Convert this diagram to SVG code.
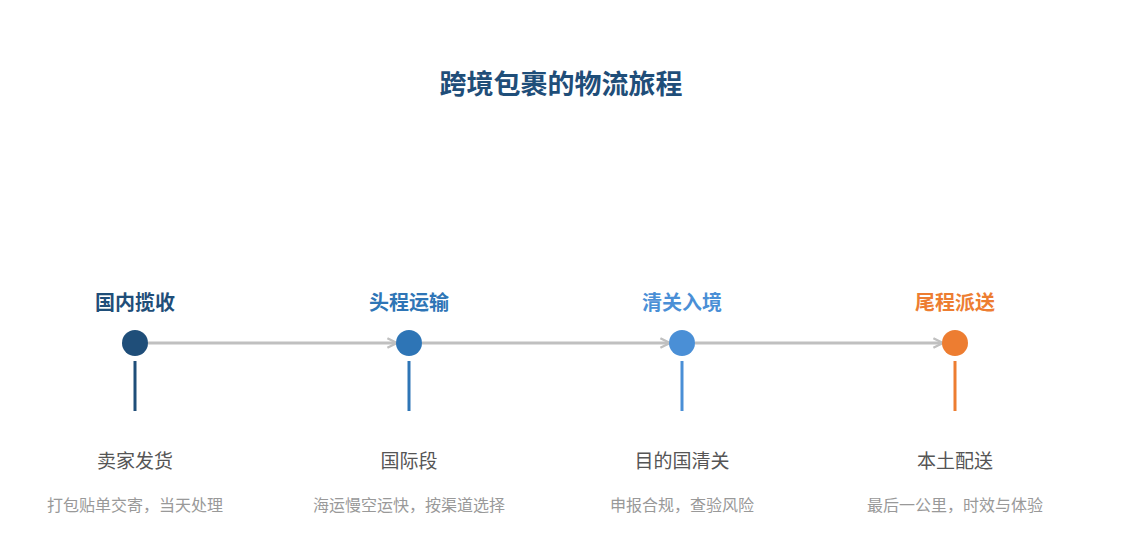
<svg xmlns="http://www.w3.org/2000/svg" width="1123" height="555" viewBox="0 0 1123 555">
<defs>
<marker id="ah" viewBox="0 0 10 10" refX="9" refY="5" markerWidth="4" markerHeight="4" orient="auto" markerUnits="strokeWidth">
<path d="M1,1 L9,5 L1,9" fill="none" stroke="#c0c0c0" stroke-width="2"/>
</marker>
<style>
text{font-family:"Noto Sans CJK SC","Liberation Sans",sans-serif;text-anchor:middle}
.t{font-size:20px;font-weight:bold}
.s{font-size:19px;fill:#555}
.d{font-size:16px;fill:#999}
.c{stroke:#c0c0c0;stroke-width:3;fill:none}
</style>
</defs>
<rect width="1123" height="555" fill="#fff"/>
<text x="561" y="94" style="font-size:27px;font-weight:bold;fill:#1f4e79">跨境包裹的物流旅程</text>
<g id="connectors">
<line class="c" x1="148" y1="343" x2="397" y2="343" marker-end="url(#ah)"/>
<line class="c" x1="422" y1="343" x2="670" y2="343" marker-end="url(#ah)"/>
<line class="c" x1="695" y1="343" x2="943" y2="343" marker-end="url(#ah)"/>
</g>
<g id="n1"><text class="t" x="135" y="310" fill="#1f4e79">国内揽收</text><circle cx="135" cy="343" r="13" fill="#1f4e79"/><line x1="135" y1="361" x2="135" y2="411" stroke="#1f4e79" stroke-width="3"/><text class="s" x="135" y="468">卖家发货</text><text class="d" x="135" y="511">打包贴单交寄，当天处理</text></g>
<g id="n2"><text class="t" x="409" y="310" fill="#2e75b6">头程运输</text><circle cx="409" cy="343" r="13" fill="#2e75b6"/><line x1="409" y1="361" x2="409" y2="411" stroke="#2e75b6" stroke-width="3"/><text class="s" x="409" y="468">国际段</text><text class="d" x="409" y="511">海运慢空运快，按渠道选择</text></g>
<g id="n3"><text class="t" x="682" y="310" fill="#4a8fd6">清关入境</text><circle cx="682" cy="343" r="13" fill="#4a8fd6"/><line x1="682" y1="361" x2="682" y2="411" stroke="#4a8fd6" stroke-width="3"/><text class="s" x="682" y="468">目的国清关</text><text class="d" x="682" y="511">申报合规，查验风险</text></g>
<g id="n4"><text class="t" x="955" y="310" fill="#ed7d31">尾程派送</text><circle cx="955" cy="343" r="13" fill="#ed7d31"/><line x1="955" y1="361" x2="955" y2="411" stroke="#ed7d31" stroke-width="3"/><text class="s" x="955" y="468">本土配送</text><text class="d" x="955" y="511">最后一公里，时效与体验</text></g>
</svg>
